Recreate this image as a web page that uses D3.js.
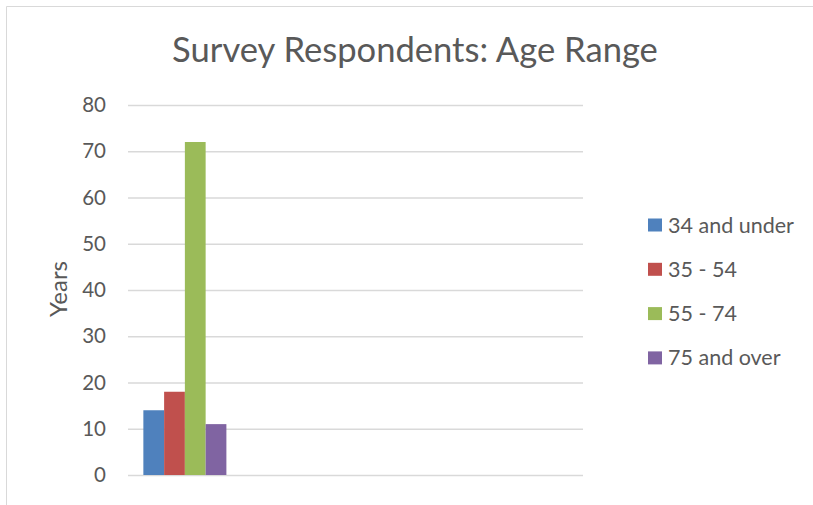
<!DOCTYPE html>
<html>
<head>
<meta charset="utf-8">
<script src="https://cdn.jsdelivr.net/npm/d3@7"></script>
<style>
  body { margin: 0; background: #fff; }
  text { font-family: Lato, "Open Sans", sans-serif; fill: #595959; }
</style>
</head>
<body>
<div id="chart"></div>
<script>
// chart data
var categories = ["1", "2", "3", "4"];
var seriesNames = ["34 and under", "35 - 54", "55 - 74", "75 and over"];
var seriesValues = [[14], [18], [72], [11]];   // one value per series, first category only
var yTicks = [0, 10, 20, 30, 40, 50, 60, 70, 80];
var colors = ["#4F81BD", "#C0504D", "#9BBB59", "#8064A2"];

var svgWidth = 813;
var svgHeight = 505;

var margin = { top: 105, right: 230, bottom: 30, left: 128 };
var width = 583 - margin.left;
var height = 475 - margin.top;

var svg = d3.select("#chart")
  .append("svg")
  .attr("width", svgWidth)
  .attr("height", svgHeight);

// outer border (only top and left visible in the crop)
svg.append("path")
  .attr("d", "M6.5,505 V6.5 H813")
  .attr("fill", "none")
  .attr("stroke", "#d9d9d9")
  .attr("stroke-width", 1);

var chartGroup = svg.append("g")
  .attr("transform", `translate(${margin.left}, ${margin.top})`);

var xScale = d3.scaleBand()
  .domain(categories)
  .range([0, width]);

var xInner = d3.scaleBand()
  .domain(seriesNames)
  .range([0, xScale.bandwidth()])
  .paddingOuter(0.74);

var yScale = d3.scaleLinear()
  .domain([0, 80])
  .range([height, 0]);

// gridlines + tick labels
var yAxis = d3.axisLeft(yScale)
  .tickValues(yTicks)
  .tickSize(-width)
  .tickPadding(22);

var yAxisG = chartGroup.append("g").call(yAxis);
yAxisG.select(".domain").remove();
yAxisG.selectAll(".tick line")
  .attr("stroke", "#d9d9d9")
  .attr("stroke-width", 1.5);
yAxisG.selectAll(".tick text")
  .style("font-family", "Lato, 'Open Sans', sans-serif")
  .attr("font-size", 20.5)
  .attr("fill", "#595959");

// bars
var rows = [];
categories.forEach(function(c, ci) {
  seriesNames.forEach(function(s, si) {
    var v = seriesValues[si][ci];
    if (v !== undefined) rows.push({ cat: c, series: s, value: v, color: colors[si] });
  });
});

chartGroup.selectAll("rect.bar")
  .data(rows)
  .enter()
  .append("rect")
  .attr("class", "bar")
  .attr("x", d => xScale(d.cat) + xInner(d.series))
  .attr("width", xInner.bandwidth())
  .attr("y", d => yScale(d.value))
  .attr("height", d => height - yScale(d.value))
  .attr("fill", d => d.color);

// title
svg.append("text")
  .attr("x", 415)
  .attr("y", 62)
  .attr("text-anchor", "middle")
  .attr("font-size", 34.6)
  .text("Survey Respondents: Age Range");

// y axis label
chartGroup.append("text")
  .attr("transform", "rotate(-90)")
  .attr("x", -184)
  .attr("y", -61)
  .attr("text-anchor", "middle")
  .attr("font-size", 24)
  .text("Years");

// legend
var legend = svg.append("g")
  .attr("transform", "translate(648, 225)");

var legendItem = legend.selectAll("g")
  .data(seriesNames)
  .enter()
  .append("g")
  .attr("transform", (d, i) => `translate(0, ${i * 44.3})`);

legendItem.append("rect")
  .attr("x", 0)
  .attr("y", -6.5)
  .attr("width", 14)
  .attr("height", 13)
  .attr("fill", (d, i) => colors[i]);

legendItem.append("text")
  .attr("x", 20)
  .attr("dy", "0.35em")
  .attr("font-size", 21.5)
  .text(d => d);
</script>
</body>
</html>
